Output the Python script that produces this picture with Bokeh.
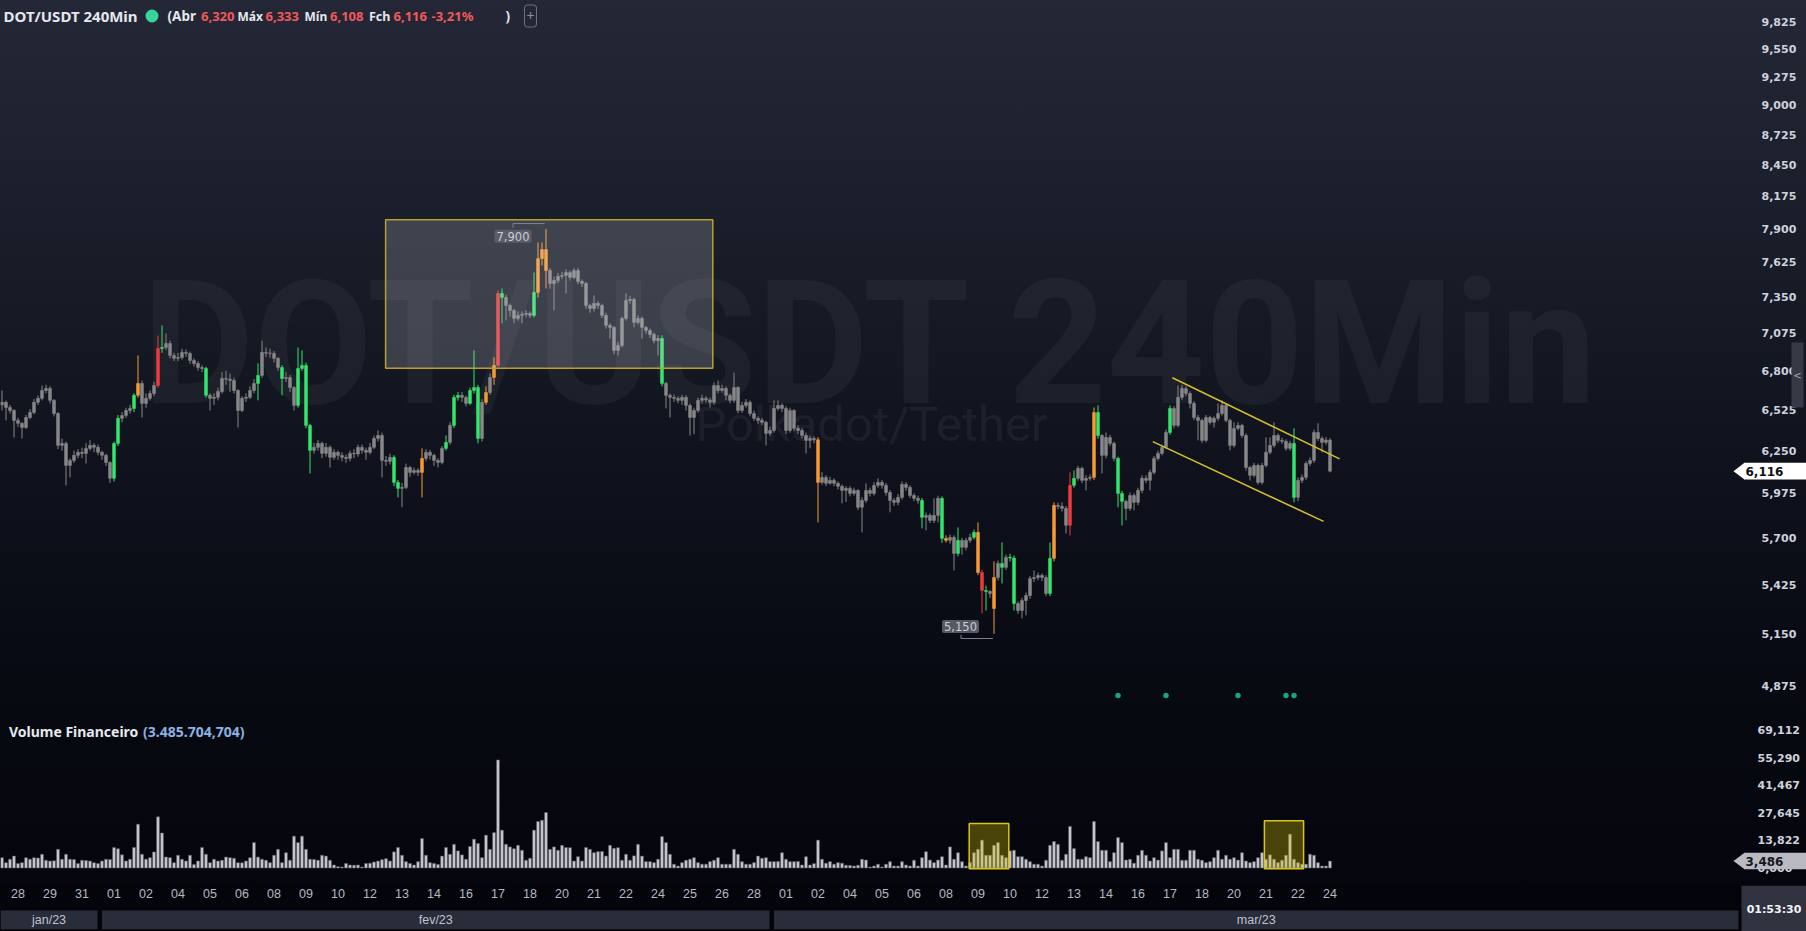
import math
from bokeh.plotting import figure
from bokeh.layouts import column
from bokeh.models import (Range1d, FixedTicker, CustomJSTickFormatter, ColumnDataSource,
                          GlobalInlineStyleSheet)
from bokeh.core.properties import value
from bokeh.embed import file_html
from bokeh.resources import INLINE

# ---------------- data ----------------
symbol = "DOT/USDT 240Min"
subtitle = "Polkadot/Tether"

opens = [
 6.560, 6.577, 6.542, 6.521, 6.453, 6.433, 6.405, 6.473, 6.507, 6.577,
 6.605, 6.660, 6.674, 6.591, 6.500, 6.285, 6.298, 6.153, 6.186, 6.219,
 6.239, 6.232, 6.265, 6.285, 6.272, 6.239, 6.219, 6.173, 6.070, 6.298,
 6.467, 6.487, 6.521, 6.535, 6.626, 6.710, 6.570, 6.605, 6.639, 6.695,
 6.963, 6.970, 6.999, 6.911, 6.890, 6.897, 6.933, 6.926, 6.875, 6.853,
 6.824, 6.817, 6.626, 6.605, 6.612, 6.653, 6.745, 6.740, 6.731, 6.660,
 6.521, 6.605, 6.612, 6.660, 6.710, 6.767, 6.933, 6.928, 6.926, 6.890,
 6.824, 6.745, 6.752, 6.681, 6.556, 6.817, 6.839, 6.419, 6.252, 6.272,
 6.298, 6.232, 6.272, 6.206, 6.239, 6.219, 6.206, 6.199, 6.232, 6.228,
 6.272, 6.252, 6.239, 6.272, 6.331, 6.351, 6.186, 6.180, 6.206, 6.044,
 6.006, 6.012, 6.140, 6.108, 6.121, 6.108, 6.199, 6.239, 6.219, 6.186,
 6.173, 6.265, 6.305, 6.419, 6.612, 6.626, 6.612, 6.570, 6.660, 6.681,
 6.331, 6.577, 6.646, 6.752, 6.839, 7.379, 7.348, 7.286, 7.248, 7.187,
 7.210, 7.218, 7.225, 7.210, 7.387, 7.656, 7.729, 7.560, 7.457, 7.481,
 7.513, 7.521, 7.544, 7.505, 7.560, 7.473, 7.457, 7.286, 7.263, 7.302,
 7.286, 7.210, 7.134, 7.119, 6.948, 6.985, 7.187, 7.325, 7.333, 7.157,
 7.187, 7.119, 7.096, 7.066, 7.021, 7.036, 6.710, 6.626, 6.612, 6.605,
 6.591, 6.612, 6.556, 6.473, 6.521, 6.591, 6.605, 6.594, 6.577, 6.695,
 6.660, 6.674, 6.626, 6.591, 6.681, 6.521, 6.556, 6.577, 6.500, 6.467,
 6.453, 6.440, 6.365, 6.385, 6.535, 6.556, 6.535, 6.385, 6.521, 6.399,
 6.385, 6.351, 6.318, 6.331, 6.322, 6.044, 6.076, 6.038, 6.057, 6.038,
 6.019, 5.993, 6.006, 5.974, 5.993, 5.887, 5.930, 5.993, 5.974, 6.025,
 6.044, 6.025, 5.980, 5.930, 5.918, 5.949, 6.031, 6.012, 5.961, 5.943,
 5.930, 5.825, 5.837, 5.806, 5.837, 5.943, 5.697, 5.685, 5.703, 5.607,
 5.685, 5.643, 5.685, 5.703, 5.733, 5.495, 5.392, 5.386, 5.290, 5.466,
 5.548, 5.525, 5.584, 5.580, 5.318, 5.279, 5.335, 5.363, 5.460, 5.466,
 5.478, 5.466, 5.375, 5.578, 5.899, 5.893, 5.880, 5.776, 6.025, 6.070,
 6.134, 6.057, 6.070, 6.076, 6.507, 6.351, 6.219, 6.338, 6.298, 6.199,
 5.974, 5.924, 5.880, 5.961, 5.918, 5.993, 6.070, 6.057, 6.108, 6.199,
 6.232, 6.272, 6.371, 6.535, 6.419, 6.612, 6.674, 6.639, 6.570, 6.473,
 6.453, 6.318, 6.473, 6.440, 6.467, 6.500, 6.556, 6.453, 6.285, 6.399,
 6.419, 6.351, 6.140, 6.089, 6.153, 6.044, 6.153, 6.239, 6.285, 6.351,
 6.318, 6.312, 6.265, 6.298, 5.949, 6.057, 6.076, 6.166, 6.186, 6.371,
 6.331, 6.305, 6.320]

highs = [
 6.660, 6.590, 6.560, 6.530, 6.470, 6.440, 6.490, 6.530, 6.600, 6.625,
 6.695, 6.700, 6.690, 6.600, 6.510, 6.330, 6.310, 6.200, 6.250, 6.260,
 6.270, 6.300, 6.320, 6.300, 6.290, 6.250, 6.230, 6.180, 6.310, 6.490,
 6.510, 6.540, 6.560, 6.640, 6.911, 6.730, 6.640, 6.660, 6.720, 7.058,
 7.134, 7.073, 7.020, 6.930, 6.930, 6.960, 6.955, 6.940, 6.890, 6.870,
 6.840, 6.830, 6.640, 6.640, 6.680, 6.790, 6.800, 6.780, 6.750, 6.670,
 6.620, 6.640, 6.690, 6.740, 6.853, 7.021, 6.970, 6.960, 6.945, 6.900,
 6.840, 6.790, 6.770, 6.690, 6.970, 6.948, 6.860, 6.430, 6.300, 6.320,
 6.310, 6.300, 6.285, 6.260, 6.250, 6.240, 6.225, 6.250, 6.260, 6.290,
 6.290, 6.270, 6.300, 6.350, 6.385, 6.370, 6.215, 6.230, 6.220, 6.060,
 6.040, 6.165, 6.150, 6.140, 6.135, 6.265, 6.260, 6.255, 6.230, 6.200,
 6.280, 6.351, 6.440, 6.630, 6.650, 6.650, 6.625, 6.680, 6.948, 6.700,
 6.600, 6.690, 6.780, 6.897, 7.402, 7.418, 7.370, 7.300, 7.260, 7.240,
 7.240, 7.250, 7.240, 7.544, 7.787, 7.787, 7.900, 7.580, 7.510, 7.540,
 7.550, 7.570, 7.560, 7.580, 7.580, 7.490, 7.470, 7.300, 7.364, 7.320,
 7.300, 7.230, 7.150, 7.130, 7.010, 7.200, 7.379, 7.360, 7.345, 7.210,
 7.200, 7.130, 7.110, 7.080, 7.060, 7.060, 6.720, 6.640, 6.630, 6.620,
 6.630, 6.625, 6.570, 6.540, 6.610, 6.630, 6.620, 6.610, 6.717, 6.731,
 6.700, 6.690, 6.640, 6.788, 6.690, 6.580, 6.600, 6.590, 6.520, 6.480,
 6.470, 6.450, 6.410, 6.591, 6.591, 6.570, 6.550, 6.540, 6.530, 6.420,
 6.400, 6.370, 6.350, 6.345, 6.340, 6.110, 6.090, 6.080, 6.070, 6.050,
 6.030, 6.020, 6.020, 6.010, 6.000, 5.950, 6.038, 6.010, 6.045, 6.070,
 6.060, 6.040, 5.995, 5.945, 5.970, 6.050, 6.045, 6.025, 5.975, 5.960,
 5.945, 5.855, 5.850, 5.943, 5.960, 5.955, 5.715, 5.720, 5.715, 5.763,
 5.700, 5.700, 5.725, 5.750, 5.794, 5.510, 5.420, 5.395, 5.560, 5.565,
 5.673, 5.600, 5.605, 5.595, 5.330, 5.350, 5.380, 5.475, 5.507, 5.495,
 5.490, 5.480, 5.673, 5.918, 5.915, 5.918, 5.895, 6.108, 6.121, 6.150,
 6.145, 6.090, 6.095, 6.542, 6.556, 6.360, 6.371, 6.355, 6.310, 6.210,
 5.990, 5.935, 5.980, 5.975, 6.010, 6.089, 6.090, 6.125, 6.215, 6.250,
 6.290, 6.390, 6.556, 6.550, 6.695, 6.700, 6.690, 6.655, 6.585, 6.490,
 6.465, 6.490, 6.485, 6.480, 6.570, 6.591, 6.570, 6.465, 6.440, 6.440,
 6.430, 6.365, 6.150, 6.170, 6.165, 6.170, 6.338, 6.338, 6.440, 6.365,
 6.335, 6.325, 6.315, 6.399, 6.075, 6.095, 6.180, 6.205, 6.390, 6.433,
 6.345, 6.340, 6.333]

lows = [
 6.521, 6.453, 6.500, 6.338, 6.410, 6.331, 6.395, 6.460, 6.495, 6.560,
 6.590, 6.640, 6.570, 6.480, 6.260, 6.250, 6.025, 6.076, 6.170, 6.200,
 6.200, 6.166, 6.250, 6.240, 6.220, 6.190, 6.150, 6.040, 6.050, 6.280,
 6.440, 6.470, 6.500, 6.510, 6.610, 6.473, 6.540, 6.590, 6.620, 6.680,
 6.930, 6.950, 6.890, 6.870, 6.870, 6.880, 6.900, 6.850, 6.830, 6.800,
 6.790, 6.610, 6.521, 6.560, 6.590, 6.640, 6.700, 6.650, 6.640, 6.405,
 6.510, 6.580, 6.600, 6.640, 6.591, 6.750, 6.900, 6.895, 6.860, 6.800,
 6.626, 6.720, 6.650, 6.521, 6.540, 6.800, 6.400, 6.102, 6.230, 6.250,
 6.200, 6.210, 6.140, 6.190, 6.190, 6.180, 6.170, 6.180, 6.200, 6.210,
 6.230, 6.190, 6.225, 6.260, 6.310, 6.076, 6.150, 6.160, 6.020, 5.949,
 5.887, 6.000, 6.080, 6.095, 6.085, 5.949, 6.180, 6.190, 6.150, 6.140,
 6.160, 6.250, 6.290, 6.400, 6.590, 6.580, 6.550, 6.560, 6.640, 6.298,
 6.310, 6.560, 6.630, 6.700, 6.830, 7.149, 7.172, 7.200, 7.150, 7.170,
 7.150, 7.195, 7.190, 7.195, 7.348, 7.600, 7.418, 7.418, 7.248, 7.460,
 7.490, 7.379, 7.480, 7.490, 7.450, 7.430, 7.260, 7.230, 7.240, 7.260,
 7.190, 7.110, 7.036, 6.920, 6.911, 6.970, 7.170, 7.300, 7.120, 7.140,
 7.036, 7.070, 7.040, 7.000, 6.911, 6.690, 6.535, 6.473, 6.580, 6.570,
 6.560, 6.521, 6.351, 6.360, 6.505, 6.570, 6.575, 6.542, 6.560, 6.640,
 6.645, 6.591, 6.570, 6.575, 6.500, 6.505, 6.540, 6.480, 6.450, 6.430,
 6.420, 6.285, 6.350, 6.370, 6.520, 6.510, 6.360, 6.370, 6.380, 6.360,
 6.330, 6.232, 6.265, 6.300, 5.794, 6.030, 6.020, 6.030, 6.020, 6.000,
 5.911, 5.920, 5.955, 5.960, 5.870, 5.733, 5.915, 5.955, 5.960, 6.010,
 6.005, 5.960, 5.856, 5.895, 5.900, 5.935, 5.990, 5.945, 5.925, 5.910,
 5.757, 5.745, 5.790, 5.790, 5.794, 5.670, 5.672, 5.665, 5.507, 5.590,
 5.600, 5.625, 5.670, 5.690, 5.480, 5.263, 5.279, 5.350, 5.150, 5.450,
 5.432, 5.510, 5.560, 5.279, 5.260, 5.235, 5.252, 5.345, 5.440, 5.450,
 5.445, 5.360, 5.360, 5.560, 5.875, 5.860, 5.727, 5.715, 6.010, 6.055,
 6.040, 5.993, 6.055, 6.060, 6.330, 6.102, 6.200, 6.280, 6.180, 5.887,
 5.775, 5.806, 5.865, 5.868, 5.900, 5.975, 6.040, 5.993, 6.095, 6.185,
 6.220, 6.260, 6.355, 6.400, 6.405, 6.595, 6.620, 6.535, 6.455, 6.318,
 6.300, 6.305, 6.425, 6.405, 6.450, 6.485, 6.440, 6.252, 6.270, 6.385,
 6.335, 6.120, 6.057, 6.075, 6.030, 6.030, 6.140, 6.225, 6.270, 6.300,
 6.295, 6.250, 6.250, 5.918, 5.925, 6.040, 6.060, 6.150, 6.170, 6.315,
 6.239, 6.290, 6.108]

closes = [
 6.577, 6.542, 6.521, 6.453, 6.433, 6.405, 6.473, 6.507, 6.577, 6.605,
 6.660, 6.674, 6.591, 6.500, 6.285, 6.298, 6.153, 6.186, 6.219, 6.239,
 6.232, 6.265, 6.285, 6.272, 6.239, 6.219, 6.173, 6.070, 6.298, 6.467,
 6.487, 6.521, 6.535, 6.626, 6.710, 6.570, 6.605, 6.639, 6.695, 6.963,
 6.970, 6.999, 6.911, 6.890, 6.897, 6.933, 6.926, 6.875, 6.853, 6.824,
 6.817, 6.626, 6.605, 6.612, 6.653, 6.745, 6.740, 6.731, 6.660, 6.521,
 6.605, 6.612, 6.660, 6.710, 6.767, 6.933, 6.928, 6.926, 6.890, 6.824,
 6.745, 6.752, 6.681, 6.556, 6.817, 6.839, 6.419, 6.252, 6.272, 6.298,
 6.232, 6.272, 6.206, 6.239, 6.219, 6.206, 6.199, 6.232, 6.228, 6.272,
 6.252, 6.239, 6.272, 6.331, 6.351, 6.186, 6.180, 6.206, 6.044, 6.006,
 6.012, 6.140, 6.108, 6.121, 6.108, 6.199, 6.239, 6.219, 6.186, 6.173,
 6.265, 6.305, 6.419, 6.612, 6.626, 6.612, 6.570, 6.660, 6.681, 6.331,
 6.577, 6.646, 6.752, 6.839, 7.379, 7.348, 7.286, 7.248, 7.187, 7.210,
 7.218, 7.225, 7.210, 7.387, 7.656, 7.729, 7.560, 7.457, 7.481, 7.513,
 7.521, 7.544, 7.505, 7.560, 7.473, 7.457, 7.286, 7.263, 7.302, 7.286,
 7.210, 7.134, 7.119, 6.948, 6.985, 7.187, 7.325, 7.333, 7.157, 7.187,
 7.119, 7.096, 7.066, 7.021, 7.036, 6.710, 6.626, 6.612, 6.605, 6.591,
 6.612, 6.556, 6.473, 6.521, 6.591, 6.605, 6.594, 6.577, 6.695, 6.660,
 6.674, 6.626, 6.591, 6.681, 6.521, 6.556, 6.577, 6.500, 6.467, 6.453,
 6.440, 6.365, 6.385, 6.535, 6.556, 6.535, 6.385, 6.521, 6.399, 6.385,
 6.351, 6.318, 6.331, 6.322, 6.044, 6.076, 6.038, 6.057, 6.038, 6.019,
 5.993, 6.006, 5.974, 5.993, 5.887, 5.930, 5.993, 5.974, 6.025, 6.044,
 6.025, 5.980, 5.930, 5.918, 5.949, 6.031, 6.012, 5.961, 5.943, 5.930,
 5.825, 5.837, 5.806, 5.837, 5.943, 5.697, 5.685, 5.703, 5.607, 5.685,
 5.643, 5.685, 5.703, 5.733, 5.495, 5.392, 5.386, 5.375, 5.466, 5.548,
 5.525, 5.584, 5.580, 5.318, 5.279, 5.335, 5.363, 5.460, 5.466, 5.478,
 5.466, 5.375, 5.578, 5.899, 5.893, 5.880, 5.776, 6.025, 6.070, 6.134,
 6.057, 6.070, 6.076, 6.507, 6.351, 6.219, 6.338, 6.298, 6.199, 5.974,
 5.924, 5.880, 5.961, 5.918, 5.993, 6.070, 6.057, 6.108, 6.199, 6.232,
 6.272, 6.371, 6.535, 6.419, 6.612, 6.674, 6.639, 6.570, 6.473, 6.453,
 6.318, 6.473, 6.440, 6.467, 6.500, 6.556, 6.453, 6.285, 6.399, 6.419,
 6.351, 6.140, 6.089, 6.153, 6.044, 6.153, 6.239, 6.285, 6.351, 6.318,
 6.312, 6.265, 6.298, 5.949, 6.057, 6.076, 6.166, 6.186, 6.371, 6.331,
 6.305, 6.320, 6.116]

# financial volume, millions of USDT
volumes = [
 5.2, 2.7, 4.4, 6.0, 2.2, 2.7, 5.2, 4.4, 5.2, 5.0,
 6.9, 3.9, 3.5, 3.6, 9.4, 4.4, 6.9, 4.4, 4.3, 2.2,
 3.9, 3.8, 3.5, 2.7, 2.2, 3.5, 4.4, 4.3, 10.3, 9.7,
 6.6, 3.5, 4.4, 10.3, 22.0, 6.9, 4.4, 5.2, 8.1, 25.7,
 17.6, 5.5, 5.2, 2.7, 6.4, 4.4, 3.5, 6.4, 1.8, 3.5,
 10.3, 6.9, 2.7, 4.4, 3.5, 3.9, 5.5, 5.2, 4.9, 2.7,
 2.6, 3.5, 5.2, 12.8, 5.5, 4.4, 3.9, 2.7, 6.4, 9.4,
 2.7, 7.7, 3.9, 16.0, 12.8, 16.0, 9.4, 4.4, 4.3, 3.9,
 6.4, 6.0, 3.9, 1.5, 0.7, 0.5, 2.3, 1.5, 1.4, 1.5,
 0.5, 2.3, 2.4, 3.0, 3.5, 4.2, 4.7, 3.5, 8.1, 10.3,
 6.4, 3.2, 2.3, 1.5, 3.2, 14.8, 6.4, 2.7, 2.3, 1.8,
 6.0, 10.3, 6.9, 11.9, 8.6, 6.6, 4.4, 10.8, 14.5, 12.3,
 5.2, 16.5, 9.4, 17.8, 54.3, 19.0, 11.9, 10.6, 9.7, 11.4,
 8.9, 3.9, 4.9, 19.0, 23.4, 24.0, 27.9, 9.4, 10.6, 8.9,
 11.4, 10.3, 10.2, 3.5, 5.7,
 3.5, 10.3, 9.4, 7.7, 8.2, 8.3, 6.0, 11.4, 9.9, 10.2,
 3.9, 6.9, 3.9, 6.1, 11.9, 6.0, 3.2, 3.2, 2.7, 4.4,
 15.8, 12.8, 6.9, 1.9, 1.0, 2.7, 3.9, 4.4, 5.2, 2.7,
 1.9, 1.9, 3.2, 3.9, 5.2, 1.9, 1.9, 1.9, 9.4, 6.9,
 3.2, 1.9, 1.9, 2.7, 6.0, 4.9, 5.2, 3.2, 3.2, 3.3,
 7.7, 4.4, 3.2, 3.2, 3.3, 1.5, 5.7, 1.5, 2.2, 14.0,
 4.4, 2.4, 3.2, 1.9, 2.7, 2.4, 1.4, 1.3, 1.0, 1.4,
 4.4, 4.0, 0.5, 1.0, 1.9, 0.5, 1.9, 3.2, 1.0, 1.0,
 3.2, 1.5, 1.0, 3.9, 1.0, 5.2, 8.2, 4.0, 2.7, 4.0,
 5.7, 1.5, 10.6, 4.4, 7.7, 3.2, 1.0, 2.7,
 7.7, 9.4, 14.0, 6.4, 6.4, 11.4, 12.8, 6.4, 5.2, 8.6,
 8.9, 5.7, 5.7, 4.4, 3.2, 1.9, 1.9, 1.0, 3.9, 11.4,
 13.3, 11.9, 3.9, 6.9, 20.9, 9.8, 4.4, 4.4, 5.7, 5.2,
 23.4, 13.3, 8.9, 8.9, 3.2, 7.7, 15.3, 12.8, 4.0, 4.4,
 2.4, 6.4, 8.9, 6.4, 3.5, 5.2, 4.0, 8.6, 12.8, 5.2,
 9.4, 9.4, 3.9, 3.9, 8.9, 8.9, 4.4, 3.9, 2.7, 3.2,
 5.2, 8.9, 4.4, 6.4, 4.4, 5.2, 4.0, 7.7, 3.5, 2.7,
 3.2, 5.2, 7.7, 4.4, 6.6, 4.4, 2.7, 3.9, 6.4, 17.0,
 4.4, 2.7, 1.9, 1.9, 6.9, 6.4, 2.7, 1.0, 1.0, 3.485704704]

green_idx = [28, 29, 33, 40, 51, 64, 70, 74, 75, 76, 77, 98, 99, 111, 113, 114, 117, 118,
             119, 125, 133, 165, 230, 235, 239, 243, 246, 250, 252, 253, 262, 268, 274,
             279, 280, 292, 323]
orange_idx = [34, 105, 121, 123, 134, 135, 136, 204, 236, 244, 248, 263, 273]
red_idx = [39, 124, 245, 267]

signal_idx = [279, 291, 309, 321, 323]
signal_level = 4.826

change_pct = -3.21
countdown = "01:53:30"

price_ticks = [4.875, 5.150, 5.425, 5.700, 5.975, 6.250, 6.525, 6.800, 7.075, 7.350,
               7.625, 7.900, 8.175, 8.450, 8.725, 9.000, 9.275, 9.550, 9.825]
volume_ticks = [0.0, 13.822, 27.645, 41.467, 55.290, 69.112]

date_labels = ["28", "29", "31", "01", "02", "04", "05", "06", "08", "09", "10", "12",
               "13", "14", "16", "17", "18", "20", "21", "22", "24", "25", "26", "28",
               "01", "02", "04", "05", "06", "08", "09", "10", "12", "13", "14", "16",
               "17", "18", "20", "21", "22", "24"]
date_first_idx = 4      # candle index of first label (28 jan, 12:00)
date_step = 8           # one label every 8 candles (32 h)
month_labels = ["jan/23", "fev/23", "mar/23"]
month_start_idx = [25, 193]   # first candle of fev and mar

zone_left, zone_right, zone_bottom, zone_top = 95.9, 177.7, 6.819, 7.977
channel_xs = [[292.6, 334.4], [287.7, 330.4]]
channel_ys = [[6.750, 6.196], [6.310, 5.800]]
vol_box_left = [241.8, 315.6]
vol_box_right = [251.7, 325.4]
vol_box_top = [22.4, 23.7]

# ---------------- helpers / layout ----------------
def br(v, nd=3):
    s = f"{v:,.{nd}f}"
    return s.replace(",", "X").replace(".", ",").replace("X", ".")

W = 1806
AX_X = 1739          # x pixel where the price/volume scales start
PXU = 4.0            # pixels per candle
HA, HB, HC = 718, 167, 46
X0 = -0.375
P_TOP, P_BOT = 10.0550, 4.70983
PPL = HA / math.log(P_TOP / P_BOT)
VK = 0.5026
V_TOP = (867.5 - HA) * VK
V_BOT = -(HA + HB - 867.5) * VK
VPX = (V_TOP - V_BOT) / HB

def px_x(px):
    return X0 + px / PXU

def px_p(py):
    return P_TOP * (P_BOT / P_TOP) ** (py / HA)

def px_v(py):
    return V_TOP - (py - HA) * VPX

N = len(closes)
idx = list(range(N))
cols = ["#878787"] * N
for i in green_idx:
    cols[i] = "#35e46c"
for i in orange_idx:
    cols[i] = "#f59a35"
for i in red_idx:
    cols[i] = "#ec3a3d"

AX_FONT = "DejaVu Sans"
HDR_FONT = "Noto Sans"
fmt_js = "return tick.toFixed(3).replace('.', ',');"

xr = Range1d(X0, X0 + W / PXU)

def base_fig(h, **kw):
    f = figure(width=W, height=h, x_range=xr, toolbar_location=None, output_backend="svg",
               min_border_left=0, min_border_right=0, min_border_top=0,
               min_border_bottom=0, **kw)
    f.background_fill_alpha = 0
    f.border_fill_alpha = 0
    f.outline_line_color = None
    f.grid.visible = False
    return f

def style_scale(ax, ticks, standoff):
    ax.ticker = FixedTicker(ticks=ticks, minor_ticks=[])
    ax.formatter = CustomJSTickFormatter(code=fmt_js)
    ax.fixed_location = px_x(AX_X)
    ax.axis_line_color = None
    ax.major_tick_line_color = None
    ax.minor_tick_line_color = None
    ax.major_label_standoff = standoff
    ax.major_label_text_font = AX_FONT
    ax.major_label_text_font_size = "11px"
    ax.major_label_text_font_style = "bold"
    ax.major_label_text_color = "#cdd3de"

# ---------------- price pane ----------------
pa = base_fig(HA, y_range=Range1d(P_BOT, P_TOP), y_axis_type="log",
              x_axis_location=None, y_axis_location="right")
pa.styles = {"background": "linear-gradient(180deg, #242836 0%, #1b1f2b 28%, #151924 46%, "
                           "#0d101a 72%, #090b14 90%, #070910 100%)"}
style_scale(pa.yaxis[0], price_ticks, 16)

# watermark
pa.text(x=[px_x(871)], y=[px_p(343)], text=[symbol], text_align="center",
        text_baseline="alphabetic", text_font=value("Roboto"), text_font_style="bold",
        text_font_size="172px", text_color="#ffffff", text_alpha=0.045)
pa.text(x=[px_x(871)], y=[px_p(424)], text=[subtitle], text_align="center",
        text_baseline="alphabetic", text_font=value("Roboto"), text_font_size="49px",
        text_color="#ffffff", text_alpha=0.05)

src = ColumnDataSource(dict(
    x=idx, h=highs, l=lows,
    top=[max(o, c) for o, c in zip(opens, closes)],
    bot=[min(o, c) for o, c in zip(opens, closes)],
    col=cols))
pa.segment(x0="x", y0="h", x1="x", y1="l", source=src, line_color="col", line_width=1)
pa.vbar(x="x", width=0.75, top="top", bottom="bot", source=src,
        fill_color="col", line_color="col", line_width=0.5)

# highlighted zone
pa.quad(left=[zone_left], right=[zone_right], top=[zone_top], bottom=[zone_bottom],
        fill_color="#d8dce8", fill_alpha=0.2, line_color="#b9a02e", line_width=1.5)

# channel
pa.multi_line(xs=channel_xs, ys=channel_ys, line_color="#d8bd2b", line_width=1.6)

# max / min markers
hi_i = max(idx, key=lambda i: highs[i])
lo_i = min(idx, key=lambda i: lows[i])
mk = dict(text_align="center", text_baseline="middle", text_font=value(AX_FONT),
          text_font_size="11.5px", text_color="#c9cdd6", background_fill_color="#5e626d",
          background_fill_alpha=0.9, border_radius=2, padding=2)
pa.text(x=[hi_i], y=[highs[hi_i]], text=[br(highs[hi_i])], x_offset=-33, y_offset=7.5, **mk)
pa.text(x=[lo_i], y=[lows[lo_i]], text=[br(lows[lo_i])], x_offset=-33.5, y_offset=-7.5, **mk)
bx_hi = hi_i - 33 / PXU
bx_lo = lo_i - 33 / PXU
pa.line(x=[bx_hi, bx_hi, hi_i - 0.3],
        y=[highs[hi_i] * math.exp(1 / PPL), highs[hi_i] * math.exp(5.3 / PPL),
           highs[hi_i] * math.exp(5.3 / PPL)], line_color="#7d8290", line_width=1)
pa.line(x=[bx_lo, bx_lo, lo_i - 0.3],
        y=[lows[lo_i] * math.exp(-0.8 / PPL), lows[lo_i] * math.exp(-4.6 / PPL),
           lows[lo_i] * math.exp(-4.6 / PPL)], line_color="#7d8290", line_width=1)

# signal dots
pa.scatter(x=signal_idx, y=[signal_level] * len(signal_idx), size=5.5,
           fill_color="#17a67c", line_color=None)

# header
hy = px_p(15.5)
white, red = "#e4e7ee", "#f2585b"
pa.text(x=[px_x(3)], y=[hy], text=[symbol], text_align="left", text_baseline="middle",
        text_font=value(HDR_FONT), text_font_style="bold", text_font_size="15px",
        text_color=white)
header = [(167, "(Abr", white, "13.5px"), (200.5, br(opens[-1]), red, "13px"),
          (237, "Máx", white, "12px"), (265, br(highs[-1]), red, "13px"),
          (304, "Mín", white, "12px"), (329.5, br(lows[-1]), red, "13px"),
          (368.5, "Fch", white, "12.5px"), (393, br(closes[-1]), red, "13px"),
          (431, f"{change_pct:.2f}%".replace(".", ","), red, "13px"),
          (505, ")", white, "13.5px")]
for px, t, c, fs in header:
    pa.text(x=[px_x(px)], y=[hy], text=[t], text_align="left", text_baseline="middle",
            text_font=value(HDR_FONT), text_font_style="bold", text_font_size=fs,
            text_color=c)
pa.scatter(x=[px_x(151.5)], y=[hy], size=13, fill_color="#36d49b", line_color=None)
pa.text(x=[px_x(530)], y=[hy], text=["+"], text_align="center", text_baseline="middle",
        text_font=value(HDR_FONT), text_font_size="14px", text_color="#8c91a0",
        border_line_color="#6c7181", border_line_width=1, border_radius=3, padding=(2, 6))

# last price marker (drawn above the scale labels)
c_last = closes[-1]
up, dn = c_last * math.exp(8.3 / PPL), c_last * math.exp(-8.3 / PPL)
pa.patch(x=[px_x(1733), px_x(1744), px_x(1744)], y=[c_last, up, dn],
         fill_color="#ffffff", line_color=None, level="overlay")
pa.quad(left=[px_x(1743.5)], right=[px_x(1806)], top=[up], bottom=[dn],
        fill_color="#ffffff", line_color=None, level="overlay")
pa.text(x=[px_x(1745)], y=[c_last], text=[br(c_last)], text_align="left",
        text_baseline="middle", text_font=value(AX_FONT), text_font_style="bold",
        text_font_size="12px", text_color="#111111", level="overlay")
# collapse button
pa.quad(left=[px_x(1791)], right=[px_x(1803)], top=[px_p(342)], bottom=[px_p(407)],
        fill_color="#363a47", line_color=None, level="overlay")
pa.text(x=[px_x(1797)], y=[px_p(374.5)], text=["<"], text_align="center",
        text_baseline="middle", text_font=value(AX_FONT), text_font_size="10px",
        text_color="#a3a8b4", level="overlay")

# ---------------- volume pane ----------------
pb = base_fig(HB, y_range=Range1d(V_BOT, V_TOP), x_axis_location=None,
              y_axis_location="right")
pb.styles = {"background": "linear-gradient(180deg, #070910 0%, #05060d 100%)"}
style_scale(pb.yaxis[0], volume_ticks, 12)

pb.vbar(x=idx, top=volumes, bottom=0, width=0.72, fill_color="#c8c8d0",
        line_color="#585862", line_width=0.6)
pb.quad(left=vol_box_left, right=vol_box_right, top=vol_box_top,
        bottom=[-0.4] * len(vol_box_left), fill_color="#d6c800", fill_alpha=0.32,
        line_color="#d9c51d", line_width=1.5)

vy = px_v(731)
pb.text(x=[px_x(8.4)], y=[vy], text=["Volume Financeiro"], text_align="left",
        text_baseline="middle", text_font=value(HDR_FONT), text_font_style="bold",
        text_font_size="14px", text_color="#e6e9ef")
pb.text(x=[px_x(142.5)], y=[vy], text=["(" + br(volumes[-1] * 1e6) + ")"], text_align="left",
        text_baseline="middle", text_font=value(HDR_FONT), text_font_style="bold",
        text_font_size="14px", text_color="#8db2e3")

v_last = volumes[-1]
vup, vdn = v_last + 8.3 * VPX, v_last - 8.3 * VPX
pb.patch(x=[px_x(1733), px_x(1744), px_x(1744)], y=[v_last, vup, vdn],
         fill_color="#b9bac2", line_color=None, level="overlay")
pb.quad(left=[px_x(1743.5)], right=[px_x(1806)], top=[vup], bottom=[vdn],
        fill_color="#b9bac2", line_color=None, level="overlay")
pb.text(x=[px_x(1745)], y=[v_last], text=[br(v_last)], text_align="left",
        text_baseline="middle", text_font=value(AX_FONT), text_font_style="bold",
        text_font_size="12px", text_color="#16171d", level="overlay")

# ---------------- date / month strip ----------------
pc = base_fig(HC, y_range=Range1d(0, HC), x_axis_location="above", y_axis_location=None)
pc.background_fill_color = "#04050b"
pc.background_fill_alpha = 1
pc.border_fill_color = "#04050b"
pc.border_fill_alpha = 1
date_pos = [date_first_idx + date_step * k for k in range(len(date_labels))]
xa = pc.xaxis[0]
xa.ticker = FixedTicker(ticks=date_pos, minor_ticks=[])
xa.major_label_overrides = {p: lab for p, lab in zip(date_pos, date_labels)}
xa.fixed_location = 28
xa.axis_line_color = None
xa.major_tick_line_color = None
xa.minor_tick_line_color = None
xa.major_label_standoff = 0
xa.major_label_text_font = "Liberation Sans"
xa.major_label_text_font_size = "12.5px"
xa.major_label_text_color = "#b4b9c4"

edges_px = [0.0] + [(b - X0) * PXU - 2.0 for b in month_start_idx] + [AX_X - 1.0]
m_left, m_right = [], []
for k in range(len(month_labels)):
    lpx = edges_px[k] + (0 if k == 0 else 2.0)
    rpx = edges_px[k + 1] - (2.5 if k + 1 < len(month_labels) else 0)
    m_left.append(px_x(lpx))
    m_right.append(px_x(rpx))
pc.quad(left=m_left, right=m_right, bottom=[2.3] * 3, top=[21] * 3,
        fill_color="#292c39", line_color=None)
pc.text(x=[(l + r) / 2 for l, r in zip(m_left, m_right)], y=[11.6] * 3, text=month_labels,
        text_align="center", text_baseline="middle", text_font=value("Liberation Sans"),
        text_font_size="12.5px", text_color="#bfc3cd")
pc.quad(left=[px_x(1741)], right=[px_x(1806)], bottom=[0], top=[HC],
        fill_color="#30333f", line_color=None)
pc.text(x=[px_x(1773.5)], y=[22], text=[countdown], text_align="center",
        text_baseline="middle", text_font=value(AX_FONT), text_font_style="bold",
        text_font_size="11px", text_color="#f2f3f6")

layout = column(pa, pb, pc, spacing=0, stylesheets=[GlobalInlineStyleSheet(
    css="html, body {margin:0 !important; padding:0; background:#04050b; overflow:hidden;}")])

open("out.html", "w").write(file_html(layout, INLINE))
